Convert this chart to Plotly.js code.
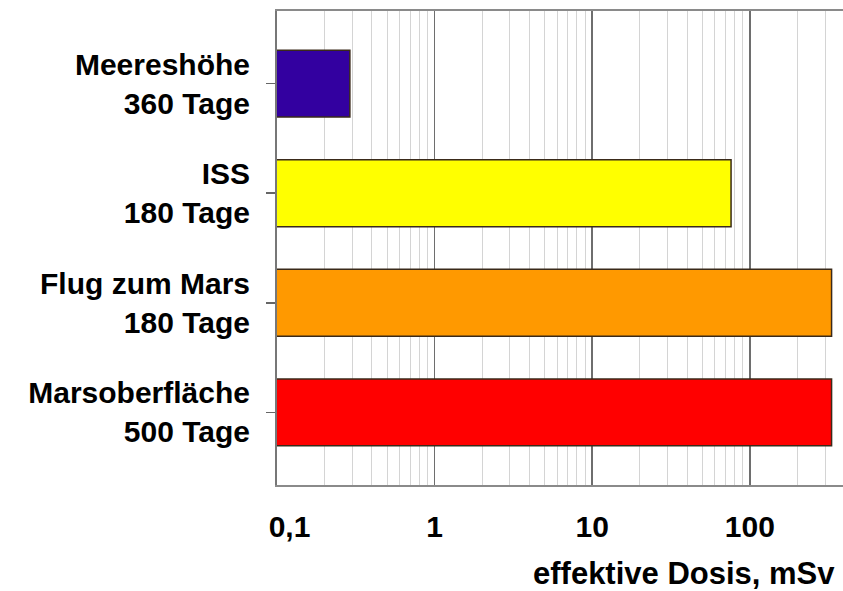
<!DOCTYPE html>
<html>
<head>
<meta charset="utf-8">
<script src="https://cdn.plot.ly/plotly-3.0.1.min.js"></script>
<style>
html, body { margin: 0; padding: 0; background: #fff; overflow: hidden; }
#chart { width: 843px; height: 591px; }
</style>
</head>
<body>
<div id="chart"></div>
<script>
// Data
const categories = ["Meereshöhe<br>360 Tage", "ISS<br>180 Tage", "Flug zum Mars<br>180 Tage", "Marsoberfläche<br>500 Tage"];
const doses = [0.29, 76, 330, 330];               // effektive Dosis, mSv
const barColors = ["#3300a0", "#ffff00", "#ff9900", "#ff0000"];
const xTickValues = [0.1, 1, 10, 100];
const xTickLabels = ["\u00a0\u00a0\u00a00,1", "1", "10", "100"];
const xTitle = "effektive Dosis, mSv";

const font = "'Liberation Sans', Arial, sans-serif";

const trace = {
  type: "bar",
  orientation: "h",
  y: categories,
  x: doses,
  width: 0.61,
  marker: { color: barColors, line: { color: "#3a2a1a", width: 1.5 } },
  hoverinfo: "none"
};

const layout = {
  width: 843,
  height: 591,
  margin: { l: 277, r: 0, t: 11, b: 106 },
  paper_bgcolor: "#ffffff",
  plot_bgcolor: "#ffffff",
  showlegend: false,
  font: { family: font, color: "#000", size: 30 },
  xaxis: {
    type: "log",
    range: [-1, 2.591],
    tickvals: xTickValues,
    ticktext: xTickLabels,
    tickfont: { family: font, size: 30, weight: "bold", color: "#000" },
    ticks: "",
    ticklabelstandoff: 14,
    showgrid: true,
    gridcolor: "#6e6e6e",
    gridwidth: 1.5,
    minor: { dtick: "D1", showgrid: true, gridcolor: "#d4d4d4", gridwidth: 1, ticks: "" },
    showline: true,
    linecolor: "#8a8a8a",
    linewidth: 2,
    mirror: true,
    zeroline: false,
    fixedrange: true
  },
  yaxis: {
    type: "category",
    categoryarray: categories,
    range: [3.6625, -0.6625],
    tickfont: { family: font, size: 30, weight: "bold", color: "#000" },
    ticks: "outside",
    ticklen: 9,
    tickwidth: 1.5,
    tickcolor: "#666",
    ticklabelstandoff: 10,
    showgrid: false,
    showline: true,
    linecolor: "#777",
    linewidth: 2,
    mirror: false,
    zeroline: false,
    fixedrange: true
  },
  annotations: [{
    text: xTitle,
    xref: "paper", yref: "paper",
    x: 1, y: 0,
    xanchor: "right", yanchor: "top",
    xshift: -6, yshift: -69,
    showarrow: false,
    font: { family: font, size: 31, weight: "bold", color: "#000" }
  }],
  hovermode: false
};

Plotly.newPlot("chart", [trace], layout, { displayModeBar: false, staticPlot: true });
</script>
</body>
</html>
